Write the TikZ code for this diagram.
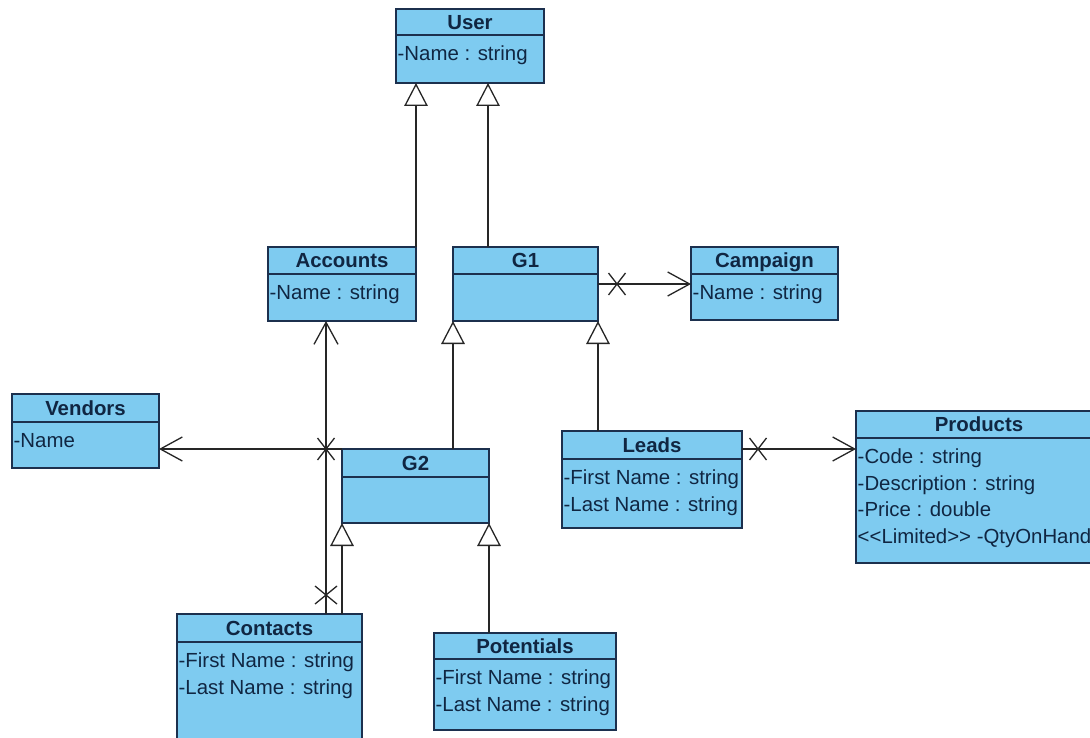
\documentclass[tikz,border=0pt]{standalone}
\usepackage{fontspec}
\setmainfont{Liberation Sans}[Ligatures=TeXOff]
\usetikzlibrary{arrows.meta,calc}

\definecolor{classfill}{RGB}{126,203,240}
\definecolor{classline}{RGB}{28,48,78}
\definecolor{classtext}{RGB}{16,38,66}

\tikzset{
  classbox/.style={draw=classline, fill=classfill, line width=1.8pt,
    rectangle, inner sep=0pt, outer sep=0pt},
  classsep/.style={draw=classline, line width=1.6pt},
  classtitle/.style={inner sep=0pt, text=classtext,
    font=\fontsize{20.4}{24}\selectfont\bfseries, text height=14.6pt, text depth=0pt},
  classattr/.style={inner sep=0pt, anchor=west, text=classtext,
    font=\fontsize{20.4}{24}\selectfont, text height=14.6pt, text depth=0pt},
  conn/.style={draw=black!85, line width=1.3pt},
  gen/.style={conn, -{Triangle[open, length=23pt, width=23.5pt, line width=1.3pt]}},
  nav/.style={conn, -{Straight Barb[length=22pt, width=24pt, line width=1.3pt]}},
  crossh/.pic={\draw[conn] (-8.5,-11) -- (8.5,11) (-8.5,11) -- (8.5,-11);},
  crossv/.pic={\draw[conn] (-11,-9) -- (11,9) (-11,9) -- (11,-9);}
}

% #1 name, #2 x, #3 y (top-left, y downward), #4 width, #5 height,
% #6 header height, #7 class name, #8 attributes (comma separated)
\newcommand\umlclass[8]{%
  \node[classbox, minimum width=#4, minimum height=#5, anchor=north west] (#1) at (#2,#3) {};
  \draw[classsep] ($(#1.north west)+(0,#6)$) -- ($(#1.north east)+(0,#6)$);
  \node[classtitle] (#1-title) at ($(#1.north)+(0,#6/2)$) {#7};
  \if\relax\detokenize{#8}\relax\else
    \foreach \a [count=\i from 0] in {#8} {
      \node[classattr] (#1-attr\i) at ($(#1.north west)+(1.5,#6+18.5+26.5*\i)$) {\a};
    }
  \fi
}

\begin{document}
\begin{tikzpicture}[x=1pt, y=-1pt]
  \useasboundingbox (0,0) rectangle (1090,738);
  \fill[white] (0,0) rectangle (1090,738);
  \clip (0,0) rectangle (1090,738);

  % classes
  \umlclass{user}{396}{9}{148}{74}{26}{User}{-Name : string}
  \umlclass{accounts}{268}{247}{148}{74}{27}{Accounts}{-Name : string}
  \umlclass{g1}{453}{247}{145}{74}{27}{G1}{}
  \umlclass{campaign}{691}{247}{147}{73}{27}{Campaign}{-Name : string}
  \umlclass{vendors}{12}{394}{147}{74}{28}{Vendors}{-Name}
  \umlclass{g2}{342}{449}{147}{74}{28}{G2}{}
  \umlclass{leads}{562}{431}{180}{97}{28}{Leads}{-First Name : string,-Last Name : string}
  \umlclass{products}{856}{411}{246}{152}{27}{Products}{-Code : string,-Description : string,-Price : double,<<Limited>> -QtyOnHand}
  \umlclass{contacts}{177}{614}{185}{150}{28}{Contacts}{-First Name : string,-Last Name : string}
  \umlclass{potentials}{434}{633}{182}{97}{26}{Potentials}{-First Name : string,-Last Name : string}

  % generalizations
  \draw[gen] (accounts.north east) -- (accounts.north east |- user.south);
  \coordinate (g1up) at ($(g1.north west)+(35,0)$);
  \draw[gen] (g1up) -- (g1up |- user.south);
  \draw[gen] (g2.north -| g1.south west) -- (g1.south west);
  \draw[gen] (leads.north -| g1.south east) -- (g1.south east);
  \draw[gen] (contacts.north -| g2.south west) -- (g2.south west);
  \draw[gen] (potentials.north -| g2.south east) -- (g2.south east);

  % directed associations
  \draw[nav] (g1.east) -- (g1.east -| campaign.west);
  \pic at ($(g1.east)+(19,0)$) {crossh};

  \draw[nav] (g2.north west) -- (g2.north west -| vendors.east);
  \pic at ($(g2.north west)+(-16,0)$) {crossh};

  \coordinate (ctop) at ($(contacts.north west)+(149,0)$);
  \draw[nav] (ctop) -- (ctop |- accounts.south);
  \pic at ($(ctop)+(0,-19)$) {crossv};

  \coordinate (lp) at ($(leads.north east)+(0,18)$);
  \draw[nav] (lp) -- (lp -| products.west);
  \pic at ($(lp)+(16,0)$) {crossh};
\end{tikzpicture}
\end{document}
